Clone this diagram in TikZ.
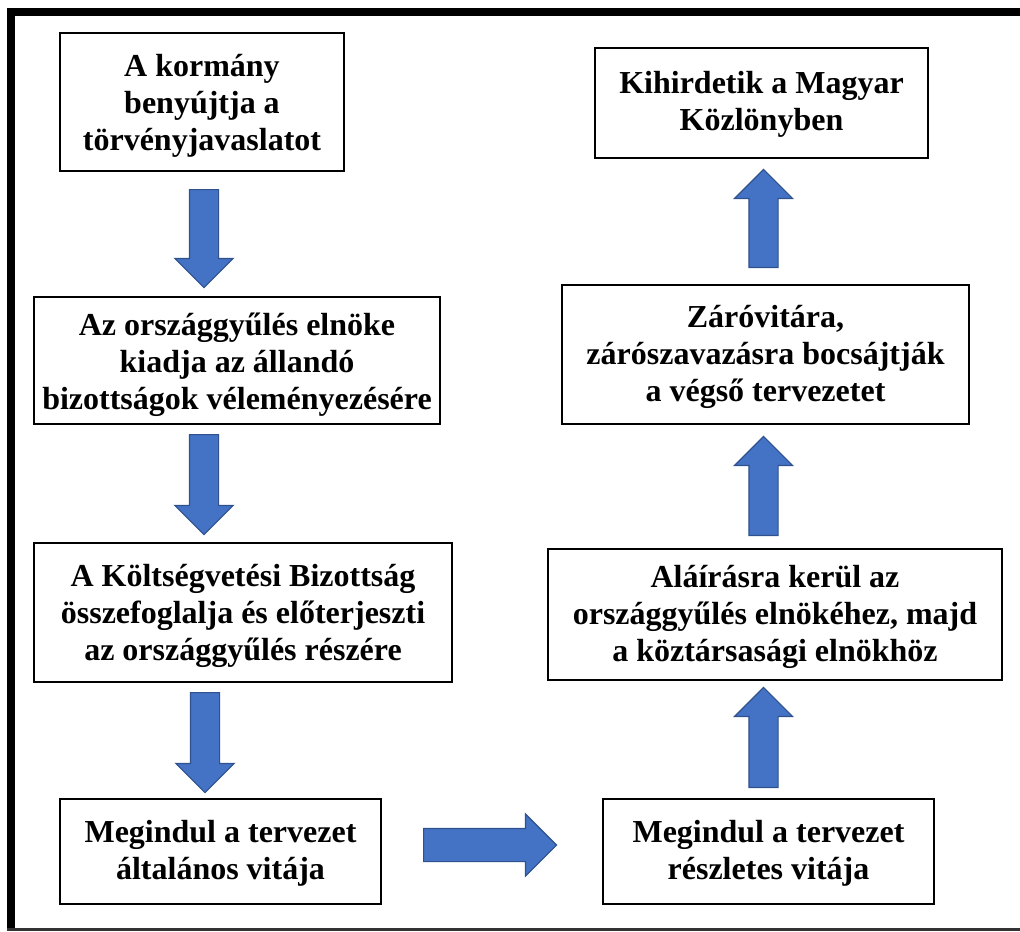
\documentclass[tikz,border=0pt]{standalone}
\usepackage{fontspec}
\setmainfont{Liberation Serif}
\usetikzlibrary{shapes.arrows,calc}
\definecolor{arrfill}{HTML}{4472C4}
\definecolor{arrline}{HTML}{2F528F}
\tikzset{
  stepbox/.style={draw=black, line width=0.9pt, fill=white, inner sep=0pt},
  boxtext/.style={align=center, inner sep=0pt,
    font=\fontsize{24}{27.75}\selectfont\bfseries},
  blockarrow/.style={single arrow, fill=arrfill, draw=arrline, line width=0.9pt,
    inner xsep=0pt, inner ysep=14*0.75pt, anchor=tail,
    single arrow head extend=14.5*0.75pt,
    single arrow tip angle=90, single arrow head indent=0pt}
}
\begin{document}
\begin{tikzpicture}[x=0.75pt, y=-0.75pt]
\useasboundingbox (0,0) rectangle (1020,931);
% frame
\fill[black] (7,8) rectangle (1020,16);
\fill[black] (7,8) rectangle (15,931);
\fill[black!80] (7,928) rectangle (1020,931);
% boxes
\node[stepbox, minimum width=284*0.75pt, minimum height=138*0.75pt] (b1) at (202,102) {};
\node[stepbox, minimum width=406*0.75pt, minimum height=127*0.75pt] (b2) at (237,360.5) {};
\node[stepbox, minimum width=418*0.75pt, minimum height=139*0.75pt] (b3) at (243,612.5) {};
\node[stepbox, minimum width=321*0.75pt, minimum height=105*0.75pt] (b4) at (220.5,851.5) {};
\node[stepbox, minimum width=331*0.75pt, minimum height=105*0.75pt] (b5) at (768.5,851.5) {};
\node[stepbox, minimum width=454*0.75pt, minimum height=131*0.75pt] (b6) at (775,614.5) {};
\node[stepbox, minimum width=407*0.75pt, minimum height=139*0.75pt] (b7) at (765.5,354.5) {};
\node[stepbox, minimum width=333*0.75pt, minimum height=110*0.75pt] (b8) at (761.5,103) {};
% texts
\node[boxtext] (t1) at ([yshift=-3pt]b1.center) {A kormány\\benyújtja a\\törvényjavaslatot};
\node[boxtext] (t2) at ([yshift=-3pt]b2.center) {Az országgyűlés elnöke\\kiadja az állandó\\bizottságok véleményezésére};
\node[boxtext] (t3) at ([yshift=-2.25pt]b3.center) {A Költségvetési Bizottság\\összefoglalja és előterjeszti\\az országgyűlés részére};
\node[boxtext] (t4) at ([yshift=-1.5pt]b4.center) {Megindul a tervezet\\általános vitája};
\node[boxtext] (t5) at ([yshift=-1.5pt]b5.center) {Megindul a tervezet\\részletes vitája};
\node[boxtext] (t6) at ([yshift=-1.5pt]b6.center) {Aláírásra kerül az\\országgyűlés elnökéhez, majd\\a köztársasági elnökhöz};
\node[boxtext] (t7) at ([yshift=-1.5pt]b7.center) {Záróvitára,\\zárószavazásra bocsájtják\\a végső tervezetet};
\node[boxtext] (t8) at ([yshift=-0.75pt]b8.center) {Kihirdetik a Magyar\\Közlönyben};
% arrow tails (just below/above the boxes they leave)
\coordinate (s12) at (204,189);
\coordinate (s23) at (204,434);
\coordinate (s34) at (205,692);
\coordinate (s45) at (423,845);
\coordinate (s56) at (763.5,788);
\coordinate (s67) at (763.5,536);
\coordinate (s78) at (763.5,268);
% block arrows
\node[blockarrow, rotate=-90, minimum height=98*0.75pt] (a12) at (s12) {};
\node[blockarrow, rotate=-90, minimum height=100*0.75pt] (a23) at (s23) {};
\node[blockarrow, rotate=-90, minimum height=100*0.75pt] (a34) at (s34) {};
\node[blockarrow, minimum height=133*0.75pt, inner ysep=16*0.75pt] (a45) at (s45) {};
\node[blockarrow, rotate=90, minimum height=100*0.75pt] (a56) at (s56) {};
\node[blockarrow, rotate=90, minimum height=99*0.75pt] (a67) at (s67) {};
\node[blockarrow, rotate=90, minimum height=98*0.75pt] (a78) at (s78) {};
\end{tikzpicture}
\end{document}
